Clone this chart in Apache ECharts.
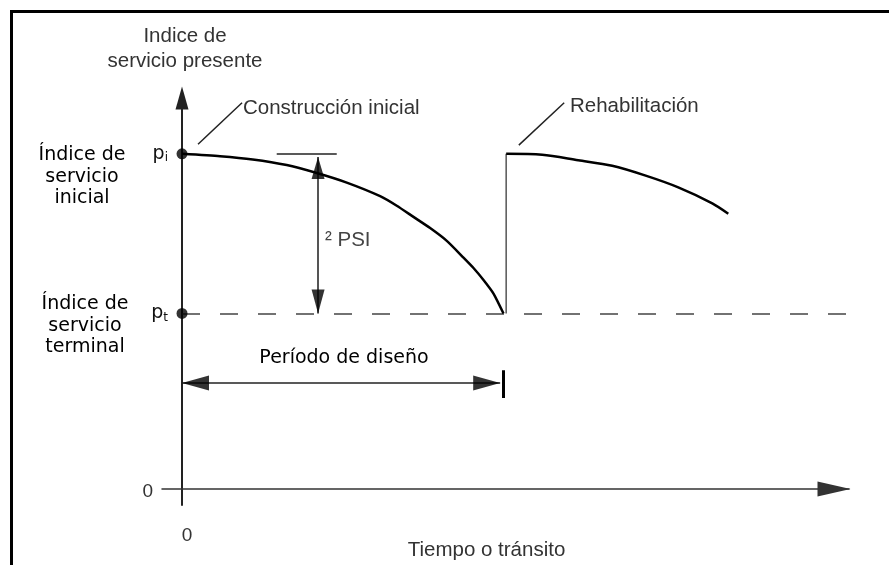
<!DOCTYPE html>
<html>
<head>
<meta charset="utf-8">
<title>Índice de servicio presente</title>
<script src="https://cdn.jsdelivr.net/npm/echarts@6.0.0/dist/echarts.min.js"></script>
<style>
    html, body { margin: 0; padding: 0; background: #fff; }
    #main { width: 889px; height: 565px; }
</style>
</head>
<body>
<div id="main"></div>
<script>
// niveles de servicio
var piLevel = 4.2;
var ptLevel = 2.2;

// curva de deterioro, construcción inicial
var curve1X = [0, 5.7, 10.6, 15.7, 20.2, 24.7, 29.7, 32.2, 34.7, 37.2, 39.7, 42.2, 43.7, 45.2, 46.7, 48.2];
var curve1Y = [4.2, 4.17, 4.13, 4.06, 3.96, 3.84, 3.67, 3.55, 3.41, 3.27, 3.11, 2.90, 2.77, 2.62, 2.45, 2.2];

// rehabilitación y segunda curva
var rehabX = 48.6;
var curve2X = [48.6, 54.0, 59.4, 64.5, 69.4, 74.4, 79.5, 81.9];
var curve2Y = [4.2, 4.19, 4.12, 4.05, 3.93, 3.78, 3.58, 3.45];

// cotas
var psiX = 20.4;
var psiTop = 4.16;
var periodY = 1.33;
var periodEnd = 48.2;
var periodTip = 47.7;

// etiquetas de los ejes
var yTickValues = [0, 2.2, 4.2];
var yTickLabels = ['{z|0}', '{p|p}{s|t}', '{p|p}{s|i}'];
var xTickValues = [0];
var xTickLabels = ['0'];

function zip(xs, ys) {
    return xs.map(function (x, i) { return [x, ys[i]]; });
}

var sans = 'Liberation Sans';
var pixel = 'DejaVu Sans';

var myChart = echarts.init(document.getElementById('main'));

var option = {
    backgroundColor: '#fff',
    animation: false,
    grid: {
        left: 162, right: 40, top: 98, bottom: 60,
        containLabel: false,
        outerBoundsMode: 'none'
    },
    xAxis: {
        type: 'value',
        min: -3,
        max: 100,
        name: 'Tiempo o tránsito',
        nameLocation: 'middle',
        nameGap: 35,
        nameMoveOverlap: false,
        nameTextStyle: { fontFamily: sans, fontSize: 20.5, color: '#333', padding: [0, 38, 0, 0] },
        splitLine: { show: false },
        axisTick: { show: false },
        axisLine: {
            onZero: true,
            symbol: ['none', 'triangle'],
            symbolSize: [15, 33],
            symbolOffset: [0, -15],
            lineStyle: { color: '#333', width: 1.5 }
        },
        axisLabel: {
            customValues: xTickValues,
            formatter: function (v) {
                var i = xTickValues.indexOf(v);
                return i < 0 ? '' : xTickLabels[i];
            },
            margin: 21,
            padding: [0, 0, 0, 10],
            fontFamily: sans,
            fontSize: 19,
            color: '#333'
        }
    },
    yAxis: {
        type: 'value',
        min: -0.2,
        max: 4.9,
        name: 'Indice de\nservicio presente',
        nameLocation: 'end',
        nameGap: 24,
        nameMoveOverlap: false,
        nameTextStyle: { fontFamily: sans, fontSize: 20.5, lineHeight: 25, color: '#333', align: 'center', padding: [0, 0, 0, 6] },
        splitLine: { show: false },
        axisTick: { show: false },
        axisLine: {
            onZero: true,
            symbol: ['none', 'triangle'],
            symbolSize: [13, 23],
            lineStyle: { color: '#222', width: 2 }
        },
        axisLabel: {
            customValues: yTickValues,
            formatter: function (v) {
                for (var i = 0; i < yTickValues.length; i++) {
                    if (Math.abs(yTickValues[i] - v) < 1e-6) return yTickLabels[i];
                }
                return '';
            },
            margin: -6,
            rich: {
                z: { fontFamily: sans, fontSize: 19, color: '#333', padding: [6, 15, 0, 0] },
                p: { fontFamily: pixel, fontSize: 19, color: '#111' },
                s: { fontFamily: pixel, fontSize: 12, color: '#111', padding: [8, 0, 0, 0] }
            }
        }
    },
    graphic: [
        {
            type: 'rect', silent: true, z: -10,
            shape: { x: 11.5, y: 11.5, width: 1000, height: 1000 },
            style: { fill: 'none', stroke: '#000', lineWidth: 3 }
        },
        {
            type: 'text', x: 82, y: 177,
            style: { text: 'Índice de\nservicio\ninicial', font: '19px "DejaVu Sans"', lineHeight: 21.5, fill: '#000', textAlign: 'center', textVerticalAlign: 'middle' }
        },
        {
            type: 'text', x: 85, y: 326,
            style: { text: 'Índice de\nservicio\nterminal', font: '19px "DejaVu Sans"', lineHeight: 21.5, fill: '#000', textAlign: 'center', textVerticalAlign: 'middle' }
        },
        {
            type: 'text', x: 243, y: 108,
            style: { text: 'Construcción inicial', font: '20.5px "Liberation Sans"', fill: '#333', textAlign: 'left', textVerticalAlign: 'middle' }
        },
        {
            type: 'text', x: 570, y: 106,
            style: { text: 'Rehabilitación', font: '20.5px "Liberation Sans"', fill: '#333', textAlign: 'left', textVerticalAlign: 'middle' }
        },
        {
            type: 'text', x: 325, y: 240,
            style: { text: '² PSI', font: '20.5px "Liberation Sans"', fill: '#444', textAlign: 'left', textVerticalAlign: 'middle' }
        },
        {
            type: 'text', x: 344, y: 358,
            style: { text: 'Período de diseño', font: '19px "DejaVu Sans"', fill: '#000', textAlign: 'center', textVerticalAlign: 'middle' }
        }
    ],
    series: [
        {
            name: 'Construcción inicial',
            type: 'line',
            data: zip(curve1X, curve1Y),
            smooth: 0.2,
            showSymbol: false,
            lineStyle: { color: '#000', width: 2.5 },
            z: 3
        },
        {
            name: 'Rehabilitación',
            type: 'line',
            data: [[rehabX, ptLevel], [rehabX, piLevel]],
            showSymbol: false,
            lineStyle: { color: '#555', width: 1.5 },
            z: 2
        },
        {
            name: 'Segunda curva',
            type: 'line',
            data: zip(curve2X, curve2Y),
            smooth: 0.3,
            showSymbol: false,
            lineStyle: { color: '#000', width: 2.5 },
            z: 3
        },
        {
            name: 'Puntos',
            type: 'scatter',
            data: [[0, piLevel], [0, ptLevel]],
            symbolSize: 11,
            itemStyle: { color: '#000' },
            z: 5
        },
        {
            name: 'Nivel terminal',
            type: 'lines',
            coordinateSystem: 'cartesian2d',
            data: [{ coords: [[0, ptLevel], [100, ptLevel]] }],
            lineStyle: { color: '#444', width: 1.5, type: [18, 20], opacity: 1 },
            z: 1
        },
        {
            name: 'Guías',
            type: 'lines',
            coordinateSystem: 'cartesian2d',
            data: [
                { coords: [[2.4, 4.32], [9.0, 4.84]] },
                { coords: [[50.5, 4.31], [57.3, 4.84]] },
                { coords: [[14.2, piLevel], [23.2, piLevel]] },
                { coords: [[periodEnd, 1.49], [periodEnd, 1.14]], lineStyle: { width: 3, color: '#000' } },
                { coords: [[psiX, psiTop], [psiX, ptLevel]], lineStyle: { width: 2, color: '#555' } },
                { coords: [[0, periodY], [periodTip, periodY]], lineStyle: { width: 1.5, color: '#222' } }
            ],
            lineStyle: { color: '#222', width: 1.5, opacity: 1 },
            z: 2
        },
        {
            name: 'Flechas',
            type: 'scatter',
            symbol: 'triangle',
            itemStyle: { color: '#000' },
            data: [
                { value: [psiX, psiTop], symbolSize: [13, 22], symbolRotate: 0, symbolOffset: [0, 11] },
                { value: [psiX, ptLevel], symbolSize: [13, 24], symbolRotate: 180, symbolOffset: [0, -12] },
                { value: [0, periodY], symbolSize: [15, 27], symbolRotate: 90, symbolOffset: [13.5, 0] },
                { value: [periodTip, periodY], symbolSize: [15, 27], symbolRotate: -90, symbolOffset: [-13.5, 0] }
            ],
            z: 4
        }
    ]
};

myChart.setOption(option);
</script>
</body>
</html>
